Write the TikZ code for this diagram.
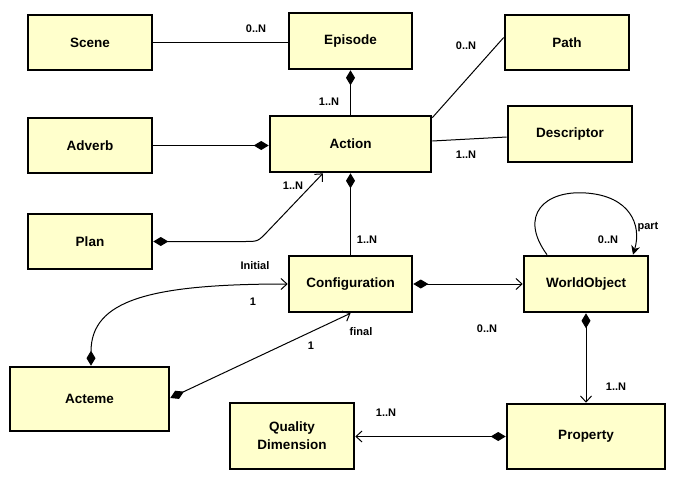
\documentclass[tikz,border=0pt]{standalone}
\usepackage{fontspec}
\setmainfont{Liberation Sans}
\usetikzlibrary{arrows.meta}
\definecolor{boxfill}{RGB}{255,255,204}
\tikzset{
  umlbox/.style={draw=black, line width=2.6pt, fill=boxfill, inner sep=2pt,
    font=\fontsize{13.5}{16}\selectfont\bfseries, align=center},
  conn/.style={line width=1pt, draw=black},
  lbl/.style={font=\fontsize{11}{13}\selectfont\bfseries, inner sep=0pt},
  compstart/.style={{Diamond[length=15pt,width=9pt]}-},
  compend/.style={-{Diamond[length=15pt,width=9pt]}},
  comparrow/.style={{Diamond[length=15pt,width=9pt]}-{Straight Barb[length=6pt,width=11pt]}},
  openend/.style={-{Straight Barb[length=6pt,width=11pt]}},
}
\begin{document}
\begin{tikzpicture}[x=1pt,y=-1pt]
\useasboundingbox (0,0) rectangle (681,485);
% boxes
\node[umlbox, minimum width=124pt, minimum height=55pt] (scene) at (90,42.5) {Scene};
\node[umlbox, minimum width=123pt, minimum height=56pt] (episode) at (350.5,41) {Episode};
\node[umlbox, minimum width=124pt, minimum height=55pt] (path) at (567,42.5) {Path};
\node[umlbox, minimum width=124pt, minimum height=56pt] (descriptor) at (570,134) {Descriptor};
\node[umlbox, minimum width=124pt, minimum height=55pt] (adverb) at (90,145.5) {Adverb};
\node[umlbox, minimum width=161pt, minimum height=56pt] (action) at (350.5,144) {Action};
\node[umlbox, minimum width=124pt, minimum height=55pt] (plan) at (90,241.5) {Plan};
\node[umlbox, minimum width=123pt, minimum height=56pt] (config) at (350.5,284) {Configuration};
\node[umlbox, minimum width=124pt, minimum height=56pt] (world) at (586,284) {WorldObject};
\node[umlbox, minimum width=159pt, minimum height=64pt] (acteme) at (89.5,399) {Acteme};
\node[umlbox, minimum width=124pt, minimum height=66pt] (quality) at (292,436) {Quality\\[2pt]Dimension};
\node[umlbox, minimum width=158pt, minimum height=65pt] (property) at (586,436.5) {Property};
% helper coordinates
\coordinate (planbend1) at (245,241.5);
\coordinate (planbend2) at (268,231);
% connectors
\draw[conn] (scene.east) -- (scene.east -| episode.west);
\draw[conn, compstart] (episode.south) -- (action.north);
\draw[conn] ([yshift=-3pt]action.north east) -- ([yshift=5pt]path.west);
\draw[conn] ([yshift=3pt]action.east) -- ([yshift=-3pt]descriptor.west);
\draw[conn, compend] (adverb.east) -- (adverb.east -| action.west);
\draw[conn, comparrow] (plan.east) -- (planbend1) .. controls (258,241.5) .. (planbend2) -- ([xshift=-27.5pt]action.south);
\draw[conn, compstart] (action.south) -- (config.north);
\draw[conn, comparrow] (config.east) -- (world.west);
\draw[conn, -{Stealth[length=9pt,width=9pt]}] ([xshift=-39pt]world.north) .. controls (518,215) and (545,190) .. (586,193) .. controls (630,196) and (642,225) .. ([xshift=47pt]world.north);
\draw[conn, comparrow] (world.south) -- (property.north);
\draw[conn, comparrow] (property.west) -- (property.west -| quality.east);
\draw[conn, comparrow] ([xshift=1.5pt]acteme.north) .. controls (91,300) and (150,284) .. (config.west);
\draw[conn, comparrow] ([yshift=1pt]acteme.east) -- (config.south);
% labels
\node[lbl] (l1) at (256,29) {0..N};
\node[lbl] (l2) at (329,102) {1..N};
\node[lbl] (l3) at (466,46) {0..N};
\node[lbl] (l4) at (466,155) {1..N};
\node[lbl] (l5) at (293,186) {1..N};
\node[lbl] (l6) at (367,240) {1..N};
\node[lbl] (l7) at (255,266) {Initial};
\node[lbl] (l8) at (253,302) {1};
\node[lbl] (l9) at (361,332) {final};
\node[lbl] (l10) at (311,346) {1};
\node[lbl] (l11) at (487,329) {0..N};
\node[lbl] (l12) at (648,227) {part};
\node[lbl] (l13) at (608,240) {0..N};
\node[lbl] (l14) at (616,387) {1..N};
\node[lbl] (l15) at (386,413) {1..N};
\end{tikzpicture}
\end{document}
